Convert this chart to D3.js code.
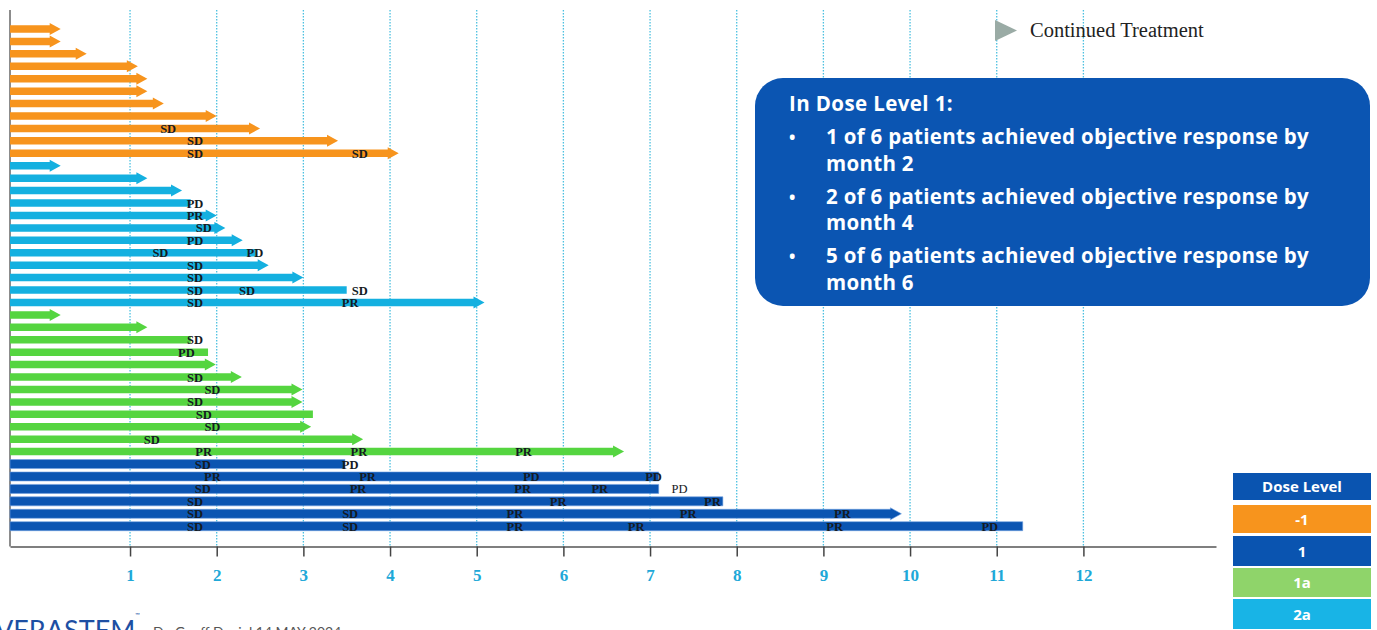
<!DOCTYPE html>
<html>
<head>
<meta charset="utf-8">
<script src="https://cdn.jsdelivr.net/npm/d3@7"></script>
<style>
  body { margin: 0; background: #fff; overflow: hidden; }
  svg { display: block; }
</style>
</head>
<body>
<svg id="chart" width="1377" height="630"></svg>
<script>
// Swimmer data, one array per dose level (rows top to bottom)
var doseOrder = ["-1", "2a", "1a", "1"];

var endM1 = [0.2, 0.2, 0.5, 1.09, 1.2, 1.2, 1.39, 2.0, 2.5, 3.4, 4.1];
var ongoingM1 = [1, 1, 1, 1, 1, 1, 1, 1, 1, 1, 1];
var respM1 = [[], [], [], [], [], [], [], [],
  [[1.44, "SD"]],
  [[1.75, "SD"]],
  [[1.75, "SD"], [3.65, "SD"]]];

var end2a = [0.2, 1.2, 1.6, 1.7, 2.0, 2.1, 2.3, 2.45, 2.6, 3.0, 3.5, 5.09];
var ongoing2a = [1, 1, 1, 0, 1, 1, 1, 0, 1, 1, 0, 1];
var resp2a = [[], [], [],
  [[1.75, "PD"]],
  [[1.75, "PR"]],
  [[1.85, "SD"]],
  [[1.75, "PD"]],
  [[1.35, "SD"], [2.44, "PD"]],
  [[1.75, "SD"]],
  [[1.75, "SD"]],
  [[1.75, "SD"], [2.35, "SD"], [3.65, "SD"]],
  [[1.75, "SD"], [3.54, "PR"]]];

var end1a = [0.2, 1.2, 1.7, 1.9, 1.99, 2.29, 2.99, 2.99, 3.11, 3.09, 3.69, 6.7];
var ongoing1a = [1, 1, 0, 0, 1, 1, 1, 1, 0, 1, 1, 1];
var resp1a = [[], [],
  [[1.75, "SD"]],
  [[1.65, "PD"]],
  [],
  [[1.75, "SD"]],
  [[1.95, "SD"]],
  [[1.75, "SD"]],
  [[1.85, "SD"]],
  [[1.95, "SD"]],
  [[1.25, "SD"]],
  [[1.85, "PR"], [3.64, "PR"], [5.54, "PR"]]];

var end1 = [3.48, 7.1, 7.1, 7.84, 9.9, 11.3];
var ongoing1 = [0, 0, 0, 0, 1, 0];
var resp1 = [
  [[1.84, "SD"], [3.54, "PD"]],
  [[1.95, "PR"], [3.74, "PR"], [5.63, "PD"], [7.04, "PD"]],
  [[1.84, "SD"], [3.63, "PR"], [5.53, "PR"], [6.42, "PR"], [7.34, "PD"]],
  [[1.75, "SD"], [5.94, "PR"], [7.72, "PR"]],
  [[1.75, "SD"], [3.54, "SD"], [5.44, "PR"], [7.44, "PR"], [9.22, "PR"]],
  [[1.75, "SD"], [3.54, "SD"], [5.44, "PR"], [6.84, "PR"], [9.13, "PR"], [10.92, "PD"]]];

var monthTicks = [1, 2, 3, 4, 5, 6, 7, 8, 9, 10, 11, 12];

var legendLabels = ["-1", "1", "1a", "2a"];

var boxTitle = "In Dose Level 1:";
var boxBullets = [
  ["1 of 6 patients achieved objective response by", "month 2"],
  ["2 of 6 patients achieved objective response by", "month 4"],
  ["5 of 6 patients achieved objective response by", "month 6"]
];

var barColors = { "-1": "#f7941d", "2a": "#14b0e0", "1a": "#55d540", "1": "#0b55b2" };
var legendColors = { "-1": "#f7941d", "1": "#0a54b0", "1a": "#8fd46a", "2a": "#18b4e6" };

// build rows
var groups = {
  "-1": [endM1, ongoingM1, respM1],
  "2a": [end2a, ongoing2a, resp2a],
  "1a": [end1a, ongoing1a, resp1a],
  "1": [end1, ongoing1, resp1]
};
var rows = [];
doseOrder.forEach(function(dose) {
  var g = groups[dose];
  g[0].forEach(function(e, i) {
    rows.push({ dose: dose, end: e, ongoing: g[1][i] === 1, resp: g[2][i] });
  });
});

var svg = d3.select("#chart");

var x = d3.scaleLinear().domain([-0.385, 13.53]).range([10, 1216]);
var y = d3.scalePoint().domain(d3.range(rows.length)).range([29, 526.2]);
var axisY = 546.5, topY = 10;

// dotted grid lines
svg.append("g").selectAll("line")
  .data(monthTicks)
  .enter().append("line")
  .attr("x1", d => x(d)).attr("x2", d => x(d))
  .attr("y1", topY).attr("y2", axisY)
  .attr("stroke", "#4cc0e0")
  .attr("stroke-width", 1.3)
  .attr("stroke-dasharray", "1.5,1.5");

// left axis line
svg.append("line")
  .attr("x1", 10).attr("x2", 10).attr("y1", topY).attr("y2", axisY)
  .attr("stroke", "#666").attr("stroke-width", 1.5);

// bottom axis
var xAxis = d3.axisBottom(x).tickValues(monthTicks).tickSize(10).tickSizeOuter(0).tickPadding(12);
var ax = svg.append("g")
  .attr("transform", "translate(0," + axisY + ")")
  .call(xAxis);
ax.select(".domain").attr("stroke", "#555").attr("stroke-width", 1.5);
ax.selectAll(".tick line").attr("stroke", "#444").attr("stroke-width", 1.5);
ax.selectAll(".tick text")
  .attr("fill", "#20a8d8")
  .style("font-family", "'Liberation Serif', serif")
  .style("font-weight", "bold")
  .style("font-size", "17px");

// bars
var barH = 7.5, headH = 12, headL = 11;
var bar = svg.append("g").selectAll("g")
  .data(rows)
  .enter().append("g");

bar.append("path")
  .attr("d", function(d, i) {
    var cy = y(i), x0 = x.range()[0], x1 = x(d.end);
    var h = d.dose === "1" ? 9 : barH;
    if (!d.ongoing) {
      return "M" + x0 + "," + (cy - h / 2) + "H" + x1 + "V" + (cy + h / 2) + "H" + x0 + "Z";
    }
    var xs = x1 - headL;
    return "M" + x0 + "," + (cy - h / 2) + "H" + xs + "V" + (cy - headH / 2) +
      "L" + x1 + "," + cy + "L" + xs + "," + (cy + headH / 2) + "V" + (cy + h / 2) +
      "H" + x0 + "Z";
  })
  .attr("fill", d => barColors[d.dose])
  .attr("stroke", d => d.dose === "1" ? "#6f9fe0" : "none")
  .attr("stroke-width", 0.6);

// response labels
bar.selectAll("text")
  .data(function(d, i) {
    return d.resp.map(function(r) { return { m: r[0], t: r[1], i: i, end: d.end }; });
  })
  .enter().append("text")
  .attr("x", d => x(d.m))
  .attr("y", d => y(d.i) + 4.5)
  .attr("text-anchor", "middle")
  .attr("fill", "#151a22")
  .style("font-family", "'Liberation Serif', serif")
  .style("font-weight", d => d.m > d.end + 0.1 && d.t === "PD" && d.i > 30 ? "normal" : "bold")
  .style("font-size", "12.5px")
  .text(d => d.t);

// continued treatment legend
svg.append("path")
  .attr("d", "M995,20L1017,30.5L995,41Z")
  .attr("fill", "#9aaba5");
svg.append("text")
  .attr("x", 1030).attr("y", 36.5)
  .attr("fill", "#222")
  .style("font-family", "'Liberation Serif', serif")
  .style("font-size", "20.5px")
  .text("Continued Treatment");

// info box
var box = svg.append("g");
box.append("rect")
  .attr("x", 755).attr("y", 78).attr("width", 615).attr("height", 228)
  .attr("rx", 28).attr("fill", "#0b55b2");
var boxFont = "'Open Sans', sans-serif";
box.append("text")
  .attr("x", 789).attr("y", 111)
  .attr("fill", "#fff")
  .style("font-family", boxFont).style("font-weight", "bold").style("font-size", "20.5px")
  .style("letter-spacing", "0.4px")
  .text(boxTitle);
boxBullets.forEach(function(b, i) {
  var by = 144 + i * 59.5;
  box.append("text")
    .attr("x", 789).attr("y", by)
    .attr("fill", "#fff")
    .style("font-family", boxFont).style("font-weight", "bold").style("font-size", "17px")
    .text("\u2022");
  b.forEach(function(line, j) {
    box.append("text")
      .attr("x", 826).attr("y", by + j * 26.5)
      .attr("fill", "#fff")
      .style("font-family", boxFont).style("font-weight", "bold").style("font-size", "20.5px")
      .style("letter-spacing", "0.3px")
      .text(line);
  });
});

// dose level legend
var leg = svg.append("g");
var legRows = [{ t: "Dose Level", c: "#0a54b0", y0: 473, y1: 500 }];
var legY = [[505, 533], [536, 566], [568, 597], [599, 629]];
legendLabels.forEach(function(l, i) {
  legRows.push({ t: l, c: legendColors[l], y0: legY[i][0], y1: legY[i][1] });
});
leg.selectAll("rect")
  .data(legRows)
  .enter().append("rect")
  .attr("x", 1233).attr("width", 138)
  .attr("y", d => d.y0).attr("height", d => d.y1 - d.y0)
  .attr("fill", d => d.c);
leg.selectAll("text")
  .data(legRows)
  .enter().append("text")
  .attr("x", 1302).attr("y", d => (d.y0 + d.y1) / 2 + 5.5)
  .attr("text-anchor", "middle")
  .attr("fill", "#fff")
  .style("font-family", boxFont).style("font-weight", "bold").style("font-size", "15px")
  .text(d => d.t);

// footer (cut off at bottom)
svg.append("text")
  .attr("x", -5).attr("y", 640)
  .attr("fill", "#1d4fa3")
  .style("font-family", "Lato, sans-serif")
  .style("font-size", "27px")
  .text("VERASTEM");
svg.append("text")
  .attr("x", 135).attr("y", 617)
  .attr("fill", "#1d4fa3")
  .style("font-family", "Lato, sans-serif")
  .style("font-size", "6px")
  .text("\u2122");
svg.append("text")
  .attr("x", 153).attr("y", 637)
  .attr("fill", "#555")
  .style("font-family", "Lato, sans-serif")
  .style("font-size", "14px")
  .text("Dr. Geoff Daniel 14 MAY 2024");
</script>
</body>
</html>
